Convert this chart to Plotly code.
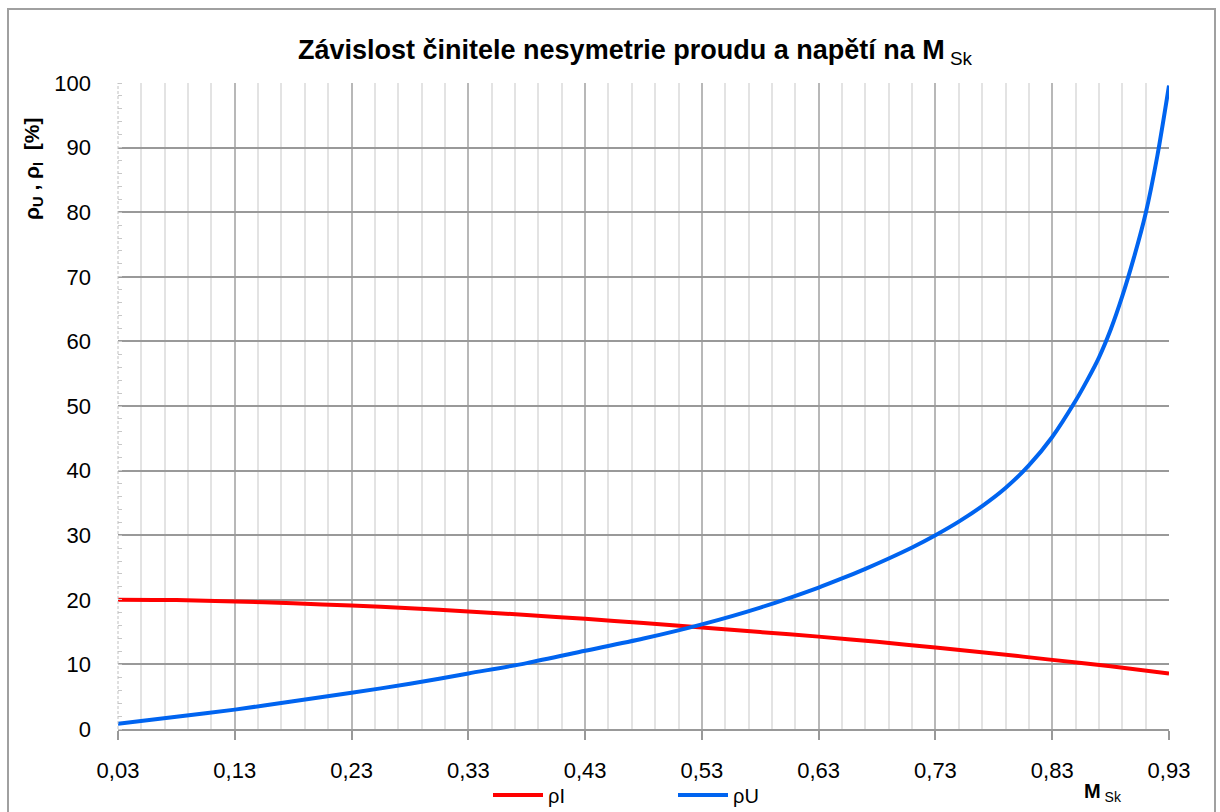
import plotly.graph_objects as go

# Ratio M_Sk (x) and unbalance factors in percent
m_sk_i = [0.03, 0.08, 0.13, 0.18, 0.23, 0.28, 0.33, 0.38, 0.43, 0.48, 0.53,
          0.58, 0.63, 0.68, 0.73, 0.78, 0.83, 0.88, 0.93]
rho_i = [20.0, 19.95, 19.75, 19.45, 19.1, 18.7, 18.2, 17.65, 17.05, 16.4, 15.7,
         15.0, 14.3, 13.5, 12.6, 11.7, 10.7, 9.7, 8.6]

m_sk_u = [0.03, 0.08, 0.13, 0.18, 0.23, 0.28, 0.33, 0.38, 0.43, 0.48, 0.53,
          0.58, 0.63, 0.65, 0.67, 0.69, 0.71, 0.73, 0.75, 0.77, 0.79, 0.81,
          0.83, 0.85, 0.86, 0.87, 0.88, 0.89, 0.90, 0.91, 0.92, 0.93]
rho_u = [0.8, 1.9, 3.0, 4.3, 5.6, 7.0, 8.6, 10.2, 12.1, 14.0, 16.2,
         18.8, 21.9, 23.3, 24.8, 26.4, 28.1, 30.0, 32.1, 34.5, 37.3, 40.8,
         45.2, 50.8, 54.0, 57.5, 61.8, 67.0, 73.0, 79.8, 88.7, 99.6]

x_ticks = [0.03, 0.13, 0.23, 0.33, 0.43, 0.53, 0.63, 0.73, 0.83, 0.93]
x_tick_text = ["0,03", "0,13", "0,23", "0,33", "0,43", "0,53", "0,63", "0,73", "0,83", "0,93"]
y_ticks = [0, 10, 20, 30, 40, 50, 60, 70, 80, 90, 100]

FONT = "Liberation Sans, Arial, sans-serif"

L, R, T, B = 118, 1169, 83, 729
W, H = 1220, 812
pw, ph = R - L, B - T


def px(xp):
    return (xp - L) / pw


def py(yp):
    return (B - yp) / ph


fig = go.Figure()
fig.add_trace(go.Scatter(x=m_sk_i, y=rho_i, mode="lines", name="ρI", legend="legend",
                         line=dict(color="#ff0000", width=4, shape="spline", smoothing=0.8)))
fig.add_trace(go.Scatter(x=m_sk_u, y=rho_u, mode="lines", name="ρU", legend="legend2",
                         line=dict(color="#0064f0", width=4, shape="spline", smoothing=0.8)))

legend_style = dict(orientation="h", xanchor="left", y=py(795), yanchor="middle",
                    font=dict(family=FONT, size=20, color="#000000"),
                    bgcolor="rgba(0,0,0,0)", itemwidth=50, borderwidth=0)

fig.update_layout(
    width=W, height=H,
    margin=dict(l=L, r=W - R, t=T, b=H - B, autoexpand=False),
    paper_bgcolor="white", plot_bgcolor="white",
    font=dict(family=FONT, size=22, color="#000000"),
    title=dict(text="<b>Závislost činitele nesymetrie proudu a napětí na M</b><sub> Sk</sub>",
               x=635 / W, xanchor="center", y=1 - 50 / H, yanchor="middle",
               font=dict(family=FONT, size=27, color="#000000")),
    showlegend=True,
    legend=dict(x=px(488), **legend_style),
    legend2=dict(x=px(673), **legend_style),
    xaxis=dict(range=[0.03, 0.93], tickmode="array", tickvals=x_ticks, ticktext=x_tick_text,
               showgrid=True, gridcolor="#b8b8b8", gridwidth=1.5,
               showline=True, linecolor="#999999", linewidth=2,
               ticks="outside", ticklen=9, tickcolor="#999999", tickwidth=2,
               tickfont=dict(size=22), zeroline=False, ticklabelstandoff=12,
               minor=dict(tick0=0.03, dtick=0.02, showgrid=True, gridcolor="#e3e3e3", gridwidth=2)),
    yaxis=dict(range=[0, 100], tickmode="array", tickvals=y_ticks,
               showgrid=True, gridcolor="#999999", gridwidth=2,
               showline=False, ticks="", tickfont=dict(size=22), zeroline=False,
               ticklabelstandoff=26,
               minor=dict(tick0=0, dtick=2, ticks="inside", ticklen=4, tickcolor="#c8c8c8",
                          tickwidth=1, showgrid=False)),
)

# Dashed left axis line
fig.add_shape(type="line", xref="paper", yref="paper", x0=0, x1=0, y0=0, y1=1,
              line=dict(color="#c0c0c0", width=1, dash="3px,2px"))
# Outer chart frame
fig.add_shape(type="rect", xref="paper", yref="paper",
              x0=px(8), x1=px(1215), y0=py(830), y1=py(9),
              line=dict(color="#a0a0a0", width=2), fillcolor="rgba(0,0,0,0)", layer="below")

# Axis titles
fig.add_annotation(text="<b>ρ<sub>U</sub> , ρ<sub>I</sub>  [%]</b>", xref="paper", yref="paper",
                   x=px(33), y=py(169), textangle=-90, showarrow=False,
                   xanchor="center", yanchor="middle", font=dict(family=FONT, size=21))
fig.add_annotation(text="<b>M</b><sub> Sk</sub>", xref="paper", yref="paper",
                   x=px(1082), y=py(792), showarrow=False, xanchor="left", yanchor="middle",
                   font=dict(family=FONT, size=20))

fig.write_html("out.html")
